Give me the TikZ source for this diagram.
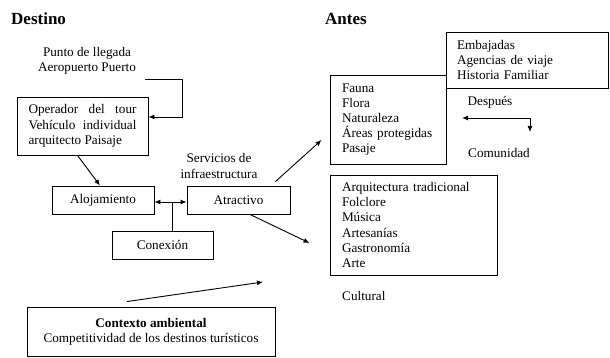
\documentclass[tikz,border=0pt]{standalone}
\usepackage{fontspec}
\setmainfont{Liberation Serif}
\usetikzlibrary{arrows.meta}
\begin{document}
\begin{tikzpicture}[x=1pt,y=-1pt,
  every node/.style={font=\fontsize{13.2}{15.2}\selectfont, inner sep=0pt},
  box/.style={draw, line width=0.9pt, minimum width=#1},
  title/.style={font=\fontsize{17}{19}\selectfont\bfseries, anchor=west},
  arr/.style={line width=0.9pt, -{Latex[length=6pt,width=5pt]}},
  arrtwo/.style={line width=0.9pt, {Latex[length=6pt,width=5pt]}-{Latex[length=6pt,width=5pt]}},
  plain/.style={line width=0.9pt}]
\useasboundingbox (0,0) rectangle (610,358);
% titles
\node[title] (destino) at (11,19) {Destino};
\node[title] (antes) at (325,19) {Antes};
% left side
\node[align=center] (punto) at (87,61) {Punto de llegada\\Aeropuerto Puerto};
\node[box=131pt, minimum height=58pt, align=left] (op) at (82.5,126)
  {\hbox to 108pt{Operador\hfill del\hfill tour}\\\hbox to 108pt{Vehículo\hfill individual}\\arquitecto Paisaje};
\node[box=102pt, minimum height=28pt] (aloj) at (103,200) {Alojamiento};
\node[box=103pt, minimum height=28pt] (atr) at (238.5,200) {Atractivo};
\node[box=101pt, minimum height=28pt] (con) at (162.5,245) {Conexión};
\node[align=center] (serv) at (219,166) {Servicios de\\infraestructura};
\node[box=248pt, minimum height=49pt, align=center] (ctx) at (151,331.5)
  {\textbf{Contexto ambiental}\\Competitividad de los destinos turísticos};
% right side
\node[box=162pt, minimum height=56pt, align=left, text width=140pt] (emb) at (527,60)
  {Embajadas\\Agencias de viaje\\Historia Familiar};
\node[box=116pt, minimum height=89pt, align=left, text width=92pt] (fauna) at (388,119.5)
  {Fauna\\Flora\\Naturaleza\\Áreas protegidas\\Pasaje};
\node[box=167pt, minimum height=100pt, align=left, text width=143pt] (arq) at (413.5,225)
  {Arquitectura tradicional\\Folclore\\Música\\Artesanías\\Gastronomía\\Arte};
\node (despues) at (490,102) {Después};
\node (comunidad) at (499,153) {Comunidad};
\node[anchor=west] (cultural) at (342,296) {Cultural};
% connectors
\coordinate (pstart) at (145,79);
\draw[arr] (pstart) -- ++(37,0) |- ([yshift=9pt]op.east);
\draw[arr] ([xshift=-5pt]op.south) -- ([xshift=-3pt]aloj.north);
\draw[arrtwo] ([yshift=-2pt]aloj.east) -- ([yshift=-2pt]atr.west);
\draw[plain] ([xshift=9.5pt]con.north) -- ([xshift=9.5pt,yshift=-2pt]con.north |- aloj.east);
\draw[arr] ([xshift=-15pt,yshift=4pt]atr.north east) -- ([xshift=-8pt,yshift=-20.5pt]fauna.west);
\draw[arr] ([xshift=11.5pt]atr.south) -- ([xshift=-20pt,yshift=-18pt]arq.west);
\coordinate (ctxend) at (263,282);
\draw[arr] ([xshift=-24pt,yshift=5pt]ctx.north) -- (ctxend);
\coordinate (dl) at (462,118);
\coordinate (dc) at (530,118);
\coordinate (dd) at (530,132);
\draw[arrtwo] (dl) -- (dc) -- (dd);
\end{tikzpicture}
\end{document}
